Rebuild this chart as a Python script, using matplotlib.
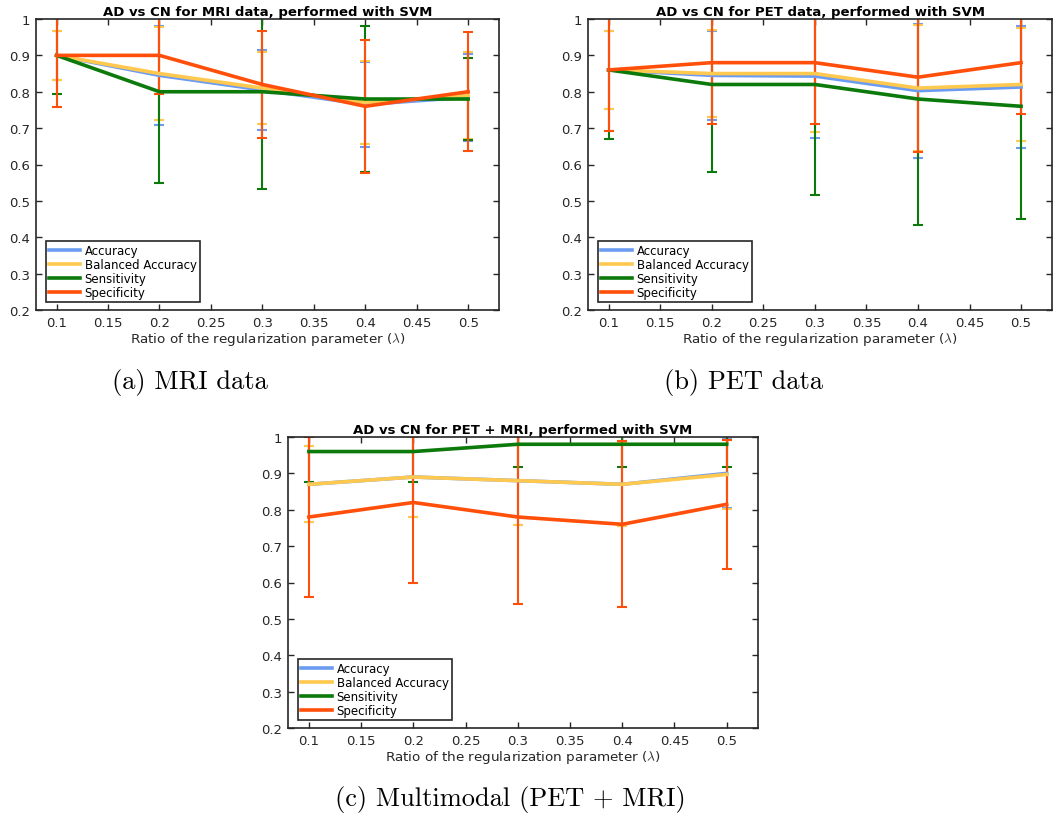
import numpy as np
import matplotlib
matplotlib.use("Agg")
import matplotlib.pyplot as plt
from matplotlib.lines import Line2D

ratios = [0.1, 0.2, 0.3, 0.4, 0.5]
xtick_vals = [0.1, 0.15, 0.2, 0.25, 0.3, 0.35, 0.4, 0.45, 0.5]
xtick_labels = ["0.1", "0.15", "0.2", "0.25", "0.3", "0.35", "0.4", "0.45", "0.5"]
ytick_vals = [0.2, 0.3, 0.4, 0.5, 0.6, 0.7, 0.8, 0.9, 1.0]
ytick_labels = ["0.2", "0.3", "0.4", "0.5", "0.6", "0.7", "0.8", "0.9", "1"]
metrics = ["Accuracy", "Balanced Accuracy", "Sensitivity", "Specificity"]

# (a) MRI
mri_acc = [0.90, 0.845, 0.805, 0.765, 0.785]
mri_acc_sd = [0.067, 0.136, 0.109, 0.118, 0.12]
mri_bal = [0.90, 0.85, 0.81, 0.77, 0.79]
mri_bal_sd = [0.067, 0.127, 0.10, 0.115, 0.12]
mri_sen = [0.90, 0.80, 0.80, 0.78, 0.78]
mri_sen_sd = [0.105, 0.25, 0.267, 0.20, 0.113]
mri_spe = [0.90, 0.90, 0.82, 0.76, 0.80]
mri_spe_sd = [0.143, 0.105, 0.147, 0.183, 0.163]

# (b) PET
pet_acc = [0.86, 0.845, 0.843, 0.803, 0.813]
pet_acc_sd = [0.108, 0.122, 0.171, 0.184, 0.167]
pet_bal = [0.86, 0.85, 0.85, 0.81, 0.82]
pet_bal_sd = [0.108, 0.12, 0.16, 0.174, 0.155]
pet_sen = [0.86, 0.82, 0.82, 0.78, 0.76]
pet_sen_sd = [0.19, 0.24, 0.305, 0.347, 0.31]
pet_spe = [0.86, 0.88, 0.88, 0.84, 0.88]
pet_spe_sd = [0.167, 0.17, 0.17, 0.205, 0.14]

# (c) PET + MRI
mm_acc = [0.87, 0.89, 0.88, 0.87, 0.90]
mm_acc_sd = [0.105, 0.11, 0.123, 0.115, 0.095]
mm_bal = [0.87, 0.89, 0.88, 0.87, 0.897]
mm_bal_sd = [0.105, 0.11, 0.123, 0.115, 0.094]
mm_sen = [0.96, 0.96, 0.98, 0.98, 0.98]
mm_sen_sd = [0.085, 0.085, 0.063, 0.063, 0.063]
mm_spe = [0.78, 0.82, 0.78, 0.76, 0.815]
mm_spe_sd = [0.22, 0.22, 0.24, 0.228, 0.178]

titles = ["AD vs CN for MRI data, performed with SVM",
          "AD vs CN for PET data, performed with SVM",
          "AD vs CN for PET + MRI, performed with SVM"]
captions = ["(a) MRI data", "(b) PET data", "(c) Multimodal (PET + MRI)"]
xlabel = r"Ratio of the regularization parameter ($\lambda$)"

colors = ["#6c9cf2", "#ffc84e", "#0b7a0b", "#ff4f0a"]

plt.rcParams["font.family"] = ["DejaVu Sans"]
plt.rcParams["mathtext.fontset"] = "cm"

W, H = 1060, 820
fig = plt.figure(figsize=(W / 100, H / 100), dpi=100)

def rect(l, t, r, b):
    return [l / W, 1 - b / H, (r - l) / W, (b - t) / H]

panels = [
    (rect(36, 20, 499, 311), [(mri_acc, mri_acc_sd), (mri_bal, mri_bal_sd), (mri_sen, mri_sen_sd), (mri_spe, mri_spe_sd)], 190, 383),
    (rect(588, 20, 1052, 311), [(pet_acc, pet_acc_sd), (pet_bal, pet_bal_sd), (pet_sen, pet_sen_sd), (pet_spe, pet_spe_sd)], 744, 383),
    (rect(288, 438, 758, 729), [(mm_acc, mm_acc_sd), (mm_bal, mm_bal_sd), (mm_sen, mm_sen_sd), (mm_spe, mm_spe_sd)], 510, 800),
]

for i, (r, series, capx, capy) in enumerate(panels):
    ax = fig.add_axes(r)
    for (vals, sd), c, name in zip(series, colors, metrics):
        ax.errorbar(ratios, vals, yerr=sd, color=c, lw=2.6, elinewidth=1.5,
                    capsize=3.6, capthick=1.5, label=name)
    ax.set_xlim(0.08, 0.53)
    ax.set_ylim(0.2, 1.0)
    ax.set_xticks(xtick_vals)
    ax.set_xticklabels(xtick_labels)
    ax.set_yticks(ytick_vals)
    ax.set_yticklabels(ytick_labels)
    ax.tick_params(direction="in", top=True, right=True, length=4, width=1,
                   labelsize=9.5, colors="#262626", pad=4)
    for s in ax.spines.values():
        s.set_color("#262626")
        s.set_linewidth(1.2)
    ax.set_title(titles[i], fontsize=9.5, fontweight="bold", pad=3)
    ax.set_xlabel(xlabel, fontsize=9.7, color="#262626", labelpad=1)
    lh = [Line2D([0], [0], color=c, lw=2.6) for c in colors]
    leg = ax.legend(lh, metrics, loc="lower left", fontsize=8.5, frameon=True,
                    fancybox=False, edgecolor="#262626", handlelength=2.6,
                    handletextpad=0.4, labelspacing=0.08, borderpad=0.25,
                    borderaxespad=0, bbox_to_anchor=(0.022, 0.027))
    leg.get_frame().set_linewidth(1.2)
    leg.get_frame().set_alpha(1)
    fig.text(capx / W, 1 - capy / H, captions[i], ha="center", va="center",
             fontsize=19, family="cmr10")

fig.savefig("out.png", dpi=100)
